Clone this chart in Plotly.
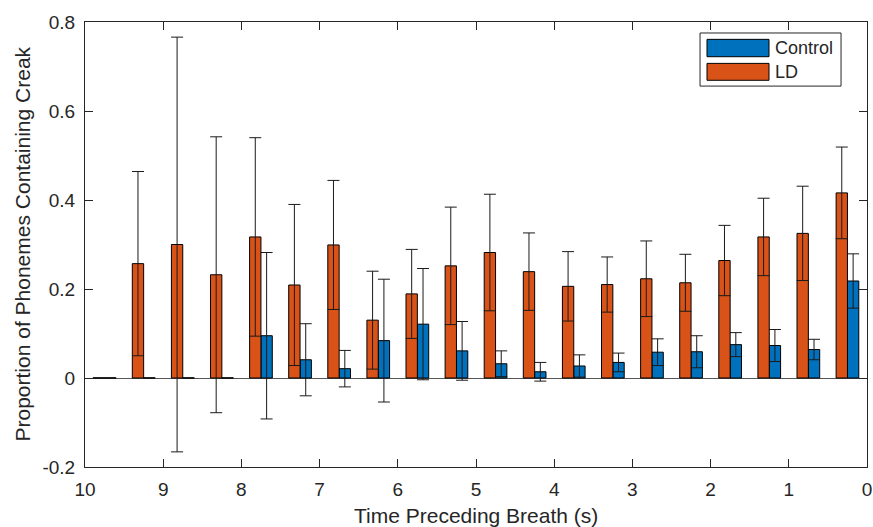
import plotly.graph_objects as go

# ---- data ----
time_bins = [9.75, 9.25, 8.75, 8.25, 7.75, 7.25, 6.75, 6.25, 5.75, 5.25,
             4.75, 4.25, 3.75, 3.25, 2.75, 2.25, 1.75, 1.25, 0.75, 0.25]
control_mean = [0.0, 0.0, 0.0, 0.0, 0.095, 0.041, 0.021, 0.084, 0.121, 0.061,
                0.032, 0.014, 0.027, 0.035, 0.058, 0.059, 0.075, 0.073, 0.064, 0.218]
control_err = [0.0, 0.0, 0.0, 0.0, 0.187, 0.081, 0.041, 0.138, 0.125, 0.066,
               0.029, 0.021, 0.025, 0.021, 0.030, 0.036, 0.027, 0.036, 0.023, 0.061]
ld_mean = [0.0, 0.257, 0.300, 0.232, 0.317, 0.209, 0.299, 0.130, 0.189, 0.252,
           0.282, 0.239, 0.206, 0.210, 0.223, 0.214, 0.264, 0.317, 0.325, 0.416]
ld_err = [0.0, 0.207, 0.466, 0.310, 0.223, 0.181, 0.145, 0.110, 0.100, 0.132,
          0.131, 0.087, 0.078, 0.062, 0.085, 0.064, 0.079, 0.087, 0.106, 0.103]
x_ticks = [10, 9, 8, 7, 6, 5, 4, 3, 2, 1, 0]
y_ticks = [-0.2, 0, 0.2, 0.4, 0.6, 0.8]
y_tick_text = ["-0.2", "0", "0.2", "0.4", "0.6", "0.8"]
x_title = "Time Preceding Breath (s)"
y_title = "Proportion of Phonemes Containing Creak"

# ---- style ----
colors = {"Control": "#0072BD", "LD": "#D95319"}
axis_color = "#262626"
font_family = "Liberation Sans, Arial, Helvetica, sans-serif"

fig = go.Figure()
for name, mean, err in [("Control", control_mean, control_err), ("LD", ld_mean, ld_err)]:
    fig.add_trace(go.Bar(
        x=time_bins, y=mean, name=name,
        marker=dict(color=colors[name], line=dict(color="black", width=1)),
        error_y=dict(type="data", array=err, visible=True, color="#1a1a1a",
                     thickness=1, width=6),
        showlegend=False,
    ))

# custom MATLAB-like legend (wide swatches)
legend_items = [("Control", 0.922, 0.961), ("LD", 0.869, 0.907)]
fig.add_shape(type="rect", xref="paper", yref="paper", x0=0.7865, x1=0.9668,
              y0=0.856, y1=0.9753, line=dict(color=axis_color, width=1),
              fillcolor="white", layer="above")
for name, y0, y1 in legend_items:
    fig.add_shape(type="rect", xref="paper", yref="paper", x0=0.7954, x1=0.8747,
                  y0=y0, y1=y1, fillcolor=colors[name],
                  line=dict(color="black", width=1), layer="above")
    fig.add_annotation(xref="paper", yref="paper", x=0.8795, y=(y0 + y1) / 2,
                       text=name, showarrow=False, xanchor="left", yanchor="middle",
                       font=dict(family=font_family, size=18, color=axis_color))

# axis titles as annotations placed in the margins
fig.add_annotation(xref="paper", yref="paper", x=0.5, y=0, yshift=-48,
                   text=x_title, showarrow=False, xanchor="center", yanchor="middle",
                   font=dict(family=font_family, size=21, color=axis_color))
fig.add_annotation(xref="paper", yref="paper", x=0, y=0.5, xshift=-63,
                   text=y_title, showarrow=False, textangle=-90,
                   xanchor="center", yanchor="middle",
                   font=dict(family=font_family, size=21, color=axis_color))

fig.update_layout(
    width=873, height=527,
    margin=dict(l=85, r=6, t=22, b=60, autoexpand=False),
    plot_bgcolor="white", paper_bgcolor="white",
    barmode="group", bargap=0.42, bargroupgap=0,
    font=dict(family=font_family, size=19, color=axis_color),
)
fig.update_xaxes(
    range=[10, 0], tickmode="array", tickvals=x_ticks,
    ticktext=[str(t) for t in x_ticks],
    ticks="inside", ticklen=8, tickcolor=axis_color, tickwidth=1,
    showline=True, linecolor=axis_color, linewidth=1, mirror="ticks",
    showgrid=False, zeroline=False, ticklabelstandoff=5,
    ticklabeloverflow="allow", automargin=False,
)
fig.update_yaxes(
    range=[-0.2, 0.8], tickmode="array", tickvals=y_ticks, ticktext=y_tick_text,
    ticks="inside", ticklen=8, tickcolor=axis_color, tickwidth=1,
    showline=True, linecolor=axis_color, linewidth=1, mirror="ticks",
    showgrid=False, zeroline=True, zerolinecolor="#555555", zerolinewidth=1,
    ticklabelstandoff=5, ticklabeloverflow="allow", automargin=False,
)

fig.write_html(
    "out.html",
    config={"displayModeBar": False},
    post_script="document.body.style.margin='0';document.body.style.overflow='hidden';",
)
